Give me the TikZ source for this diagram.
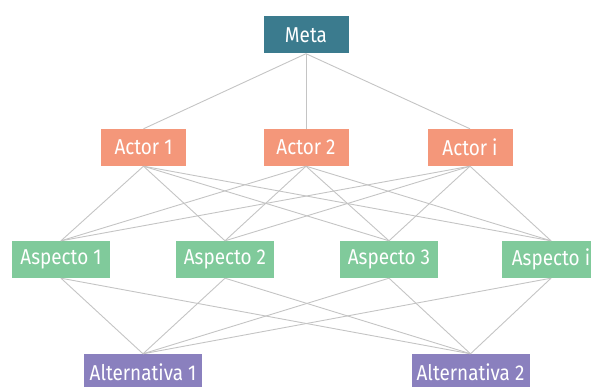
\documentclass[tikz,border=0pt]{standalone}
\usepackage{fontspec}
\setmainfont[FakeStretch=0.88]{Fira Sans}
\usepackage{xcolor}
\definecolor{metacol}{HTML}{3B7B8E}
\definecolor{actorcol}{HTML}{F4977A}
\definecolor{aspcol}{HTML}{80CA9B}
\definecolor{altcol}{HTML}{8A80BE}
\definecolor{linecol}{HTML}{C4C4C4}
\tikzset{
  box/.style={text=white, inner sep=0pt, minimum height=37pt, font=\fontsize{21.5}{24}\selectfont},
  metabox/.style={box, fill=metacol, minimum width=85pt},
  actorbox/.style={box, fill=actorcol, minimum width=85pt},
  aspbox/.style={box, fill=aspcol, minimum width=98pt},
  altbox/.style={box, fill=altcol, minimum width=118pt},
  link/.style={draw=linecol, line width=0.9pt}
}
\begin{document}
\begin{tikzpicture}[x=1pt, y=-1pt]
\useasboundingbox (0,0) rectangle (591,387);
% niveles
\node[metabox] (meta) at (306,35) {Meta};
\node[actorbox] (a1) at (143.5,147.5) {Actor 1};
\node[actorbox] (a2) at (306,147.5) {Actor 2};
\node[actorbox] (a3) at (470,147.5) {Actor i};
\node[aspbox] (s1) at (61,259.5) {Aspecto 1};
\node[aspbox] (s2) at (225,259.5) {Aspecto 2};
\node[aspbox] (s3) at (389,259.5) {Aspecto 3};
\node[aspbox] (s4) at (551,259.5) {Aspecto i};
\node[altbox] (x1) at (143,372.5) {Alternativa 1};
\node[altbox] (x2) at (470.5,372.5) {Alternativa 2};
% conexiones
\begin{scope}[on background layer/.try]
\foreach \a in {a1,a2,a3}{\draw[link] (meta.south) -- (\a.north);}
\foreach \a in {a1,a2,a3}{\foreach \s in {s1,s2,s3,s4}{\draw[link] (\a.south) -- (\s.north);}}
\foreach \s in {s1,s2,s3,s4}{\foreach \x in {x1,x2}{\draw[link] (\s.south) -- (\x.north);}}
\end{scope}
\end{tikzpicture}
\end{document}
